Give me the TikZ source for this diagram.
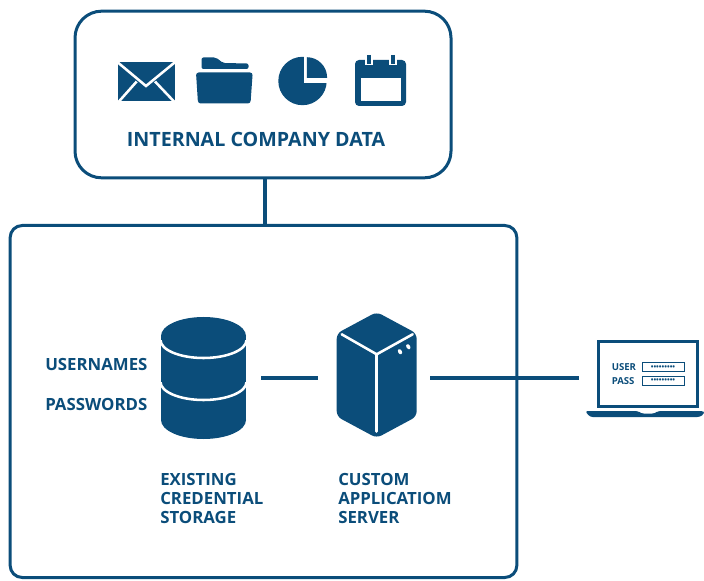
\documentclass[tikz,border=0pt]{standalone}
\usepackage{fontspec}
\setmainfont{Open Sans}
\definecolor{navy}{HTML}{0B4D7A}
\tikzset{
  box/.style={draw=navy,line width=2.25pt,fill=white,inner sep=0pt},
  link/.style={draw=navy,line width=2.3pt},
  lbl/.style={text=navy,font=\fontsize{12.6}{14}\selectfont\bfseries,inner sep=0pt,anchor=west,align=left},
  icon/.style={inner sep=0pt,minimum width=#1},
  cut/.style={draw=white,line width=1.9pt},
  field/.style={draw=navy,line width=.7pt,inner sep=0pt,minimum width=31.5pt,minimum height=6.6pt,text=navy,font=\fontsize{5.4}{5}\selectfont\bfseries},
  small/.style={text=navy,font=\fontsize{7.2}{8}\selectfont\bfseries,inner sep=0pt,anchor=west}
}
\begin{document}
\begin{tikzpicture}[x=.75pt,y=-.75pt]
\useasboundingbox (0,0) rectangle (704,581);
% boxes
\node[box,rounded corners=20pt,minimum width=282pt,minimum height=125pt] (top) at (263,94.5) {};
\node[box,rounded corners=9pt,minimum width=380pt,minimum height=264pt] (bottom) at (263.5,401.5) {};
\draw[link] ([xshift=1.5pt]top.south) -- ([xshift=1.5pt]top.south |- bottom.north);
% envelope
\fill[navy] (118,62) rectangle (175,101);
\draw[cut] (117,61.8) -- (146,86) -- (175.5,61.8);
\draw[cut] (118.5,102) -- (136.7,81.5);
\draw[cut] (174.5,102) -- (155,81.5);
% folder
\fill[navy,rounded corners=1.5pt] (201.5,69) -- (201.5,57.5) -- (216,57.5) -- (223,63) -- (248.5,63.5) -- (248.5,69) -- cycle;
\fill[navy,rounded corners=2pt] (196,72.5) -- (252.7,72.5) -- (250.5,103.5) -- (198,103.5) -- cycle;
% pie
\fill[navy] (302.5,81) circle (24.2);
\fill[white] (304,50) rectangle (330,83.5);
\begin{scope}
\clip (306.8,50) rectangle (330,77.5);
\fill[navy] (306.8,77.5) circle (20.3);
\end{scope}
% calendar
\fill[navy,rounded corners=3pt] (355,60) rectangle (406,106);
\fill[white] (360.7,78.5) rectangle (401,101);
\draw[white,line width=6pt] (368.5,52) -- (368.5,65);
\draw[white,line width=6pt] (393,52) -- (393,65);
\draw[navy,line width=3pt] (368.5,55) -- (368.5,64);
\draw[navy,line width=3pt] (393,55) -- (393,64);
\node[text=navy,font=\fontsize{14.75}{16}\selectfont\bfseries,inner sep=0pt] (title) at (256,139.5) {INTERNAL COMPANY DATA};
% database
\node[icon=63.75pt,minimum height=91pt] (db) at (203.5,378) {};
\fill[navy] (161,336) rectangle (246,420);
\fill[navy] (203.5,336) ellipse (42.5 and 19);
\fill[navy] (203.5,420) ellipse (42.5 and 19);
\begin{scope}
\clip (155,340) rectangle (252,362);
\draw[cut] (203.5,340) ellipse (43 and 18);
\end{scope}
\begin{scope}
\clip (155,382) rectangle (252,404);
\draw[cut] (203.5,382) ellipse (43 and 18);
\end{scope}
% server
\node[icon=60pt,minimum height=94pt] (server) at (376.7,378) {};
\fill[navy,rounded corners=4pt] (376.7,312) -- (416.7,333.5) -- (416.7,416.5) -- (376.7,438) -- (336.7,416.5) -- (336.7,333.5) -- cycle;
\draw[cut,line cap=round] (341.7,334.3) -- (376.7,354.3) -- (412.7,334.3);
\draw[cut,line cap=round] (376.7,354.3) -- (376.7,431.5);
\fill[white,rotate around={30:(400,351.7)}] (400,351.7) ellipse (1.9 and 2.8);
\fill[white,rotate around={30:(408.3,346.7)}] (408.3,346.7) ellipse (1.9 and 2.8);
% laptop
\node[draw=navy,line width=2.2pt,inner sep=0pt,minimum width=74pt,minimum height=48.5pt] (laptop) at (648,374) {};
\fill[navy,rounded corners=2pt] (585,411) -- (638,411) -- (641,413.5) -- (655,413.5) -- (658,411) -- (704,411) -- (704,414) -- (700,417) -- (590,417) -- cycle;
\node[small] (user) at (611.5,367.5) {USER};
\node[small] (pass) at (611.5,381) {PASS};
\node[field] (ufield) at (663,367.2) {•••••••••};
\node[field] (pfield) at (663,381) {•••••••••};
% connectors
\draw[link,shorten <=11.2pt,shorten >=13.5pt] (db.east) -- (server.west);
\draw[link,shorten <=9.8pt,shorten >=14pt] (server.east) -- (server.east -| laptop.west);
% labels
\node[lbl] (un) at (45,364) {USERNAMES};
\node[lbl] (pw) at (45,404) {PASSWORDS};
\node[lbl] (ex) at (160,479.5) {EXISTING};
\node[lbl] (cr) at (160,498.5) {CREDENTIAL};
\node[lbl] (st) at (160,517.5) {STORAGE};
\node[lbl] (cu) at (338,479.5) {CUSTOM};
\node[lbl] (ap) at (338,498.5) {APPLICATIOM};
\node[lbl] (se) at (338,517.5) {SERVER};
\end{tikzpicture}
\end{document}
